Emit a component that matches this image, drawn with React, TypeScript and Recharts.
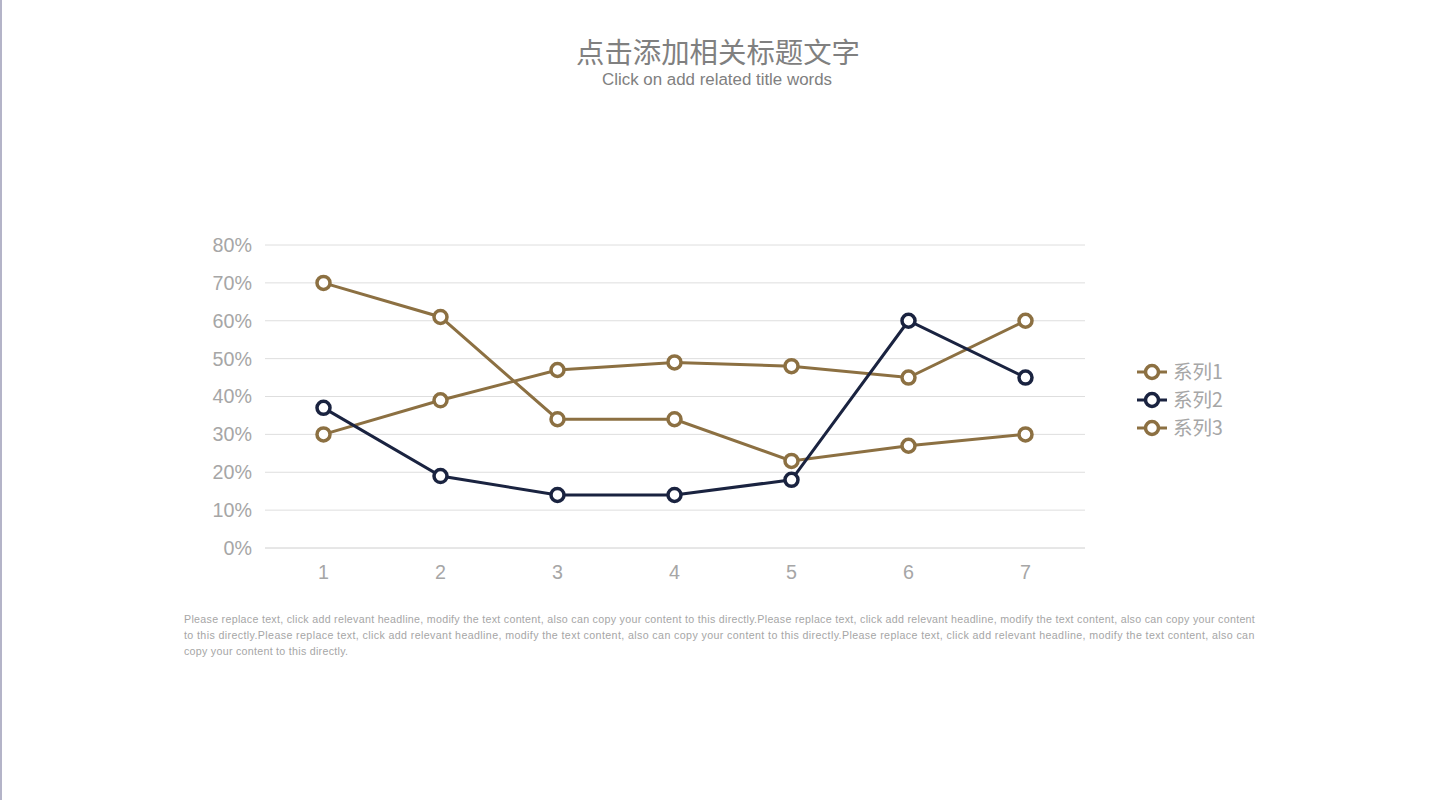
import React from "react";
import { LineChart, Line, XAxis, YAxis, CartesianGrid } from "recharts";

const categories = ["1", "2", "3", "4", "5", "6", "7"];
const series1 = [30, 39, 47, 49, 48, 45, 60];
const series2 = [37, 19, 14, 14, 18, 60, 45];
const series3 = [70, 61, 34, 34, 23, 27, 30];
const yTicks = [0, 10, 20, 30, 40, 50, 60, 70, 80];
const seriesNames = ["系列1", "系列2", "系列3"];
const BROWN = "#8c7042";
const NAVY = "#1a2340";
const seriesColors = [BROWN, NAVY, BROWN];
const bodyLines = [
  "Please replace text, click add relevant headline, modify the text content, also can copy your content to this directly.Please replace text, click add relevant headline, modify the text content, also can copy your content",
  "to this directly.Please replace text, click add relevant headline, modify the text content, also can copy your content to this directly.Please replace text, click add relevant headline, modify the text content, also can",
  "copy your content to this directly.",
];
const bodySpacing = [0.295, 0.385, 0.28];

const data = categories.map((c, i) => ({
  name: c,
  s1: series1[i],
  s2: series2[i],
  s3: series3[i],
}));

const SANS = "'Liberation Sans', Arial, sans-serif";
const tickStyle = { fill: "#a6a6a6", fontSize: 19.7, fontFamily: SANS };
const dot = (color: string) => ({ r: 6.5, fill: "#ffffff", stroke: color, strokeWidth: 3.5 });

export default function App() {
  return (
    <div style={{ position: "absolute", left: 0, top: 0, width: 1432, height: 800, background: "#fff", overflow: "hidden" }}>
      <div style={{ position: "absolute", left: 0, top: 0, width: 2, height: 800, background: "#b4b4c8" }} />
      <div style={{ position: "absolute", left: 0, width: 1436, top: 31, textAlign: "center", fontFamily: "'Noto Sans CJK SC'", fontSize: 28.4, lineHeight: "40px", color: "#808080", whiteSpace: "nowrap" }}>
        点击添加相关标题文字
      </div>
      <div style={{ position: "absolute", left: 0, width: 1434, top: 70, textAlign: "center", fontFamily: SANS, fontSize: 16.9, lineHeight: "20px", color: "#808080", whiteSpace: "nowrap" }}>
        Click on add related title words
      </div>
      <LineChart
        width={1432}
        height={800}
        data={data}
        margin={{ left: 205, right: 347, top: 245, bottom: 212 }}
        style={{ position: "absolute", left: 0, top: 0 }}
      >
        <CartesianGrid horizontal vertical={false} stroke="#dedede" strokeWidth={1} />
        <XAxis
          dataKey="name"
          padding={{ left: 58.5, right: 59.5 }}
          height={40}
          tick={tickStyle}
          tickLine={false}
          tickSize={0}
          tickMargin={17}
          axisLine={{ stroke: "#dedede" }}
        />
        <YAxis
          width={60}
          domain={[0, 80]}
          ticks={yTicks}
          tick={tickStyle}
          tickFormatter={(v: number) => `${v}%`}
          tickLine={false}
          tickSize={0}
          tickMargin={13}
          axisLine={false}
          interval={0}
        />
        <Line dataKey="s1" name={seriesNames[0]} stroke={seriesColors[0]} strokeWidth={3} dot={dot(seriesColors[0])} isAnimationActive={false} />
        <Line dataKey="s3" name={seriesNames[2]} stroke={seriesColors[2]} strokeWidth={3} dot={dot(seriesColors[2])} isAnimationActive={false} />
        <Line dataKey="s2" name={seriesNames[1]} stroke={seriesColors[1]} strokeWidth={3} dot={dot(seriesColors[1])} isAnimationActive={false} />
      </LineChart>
      {seriesNames.map((n, i) => (
        <div key={n} style={{ position: "absolute", left: 1136, top: 358 + i * 28, height: 28, display: "flex", alignItems: "center" }}>
          <svg width={32} height={28} style={{ display: "block" }}>
            <line x1={1} x2={31} y1={14} y2={14} stroke={seriesColors[i]} strokeWidth={3} />
            <circle cx={16} cy={14} r={6.5} fill="#fff" stroke={seriesColors[i]} strokeWidth={3.5} />
          </svg>
          <span style={{ marginLeft: 5, marginTop: -4, fontFamily: "'Noto Sans CJK SC'", fontSize: 19.5, color: "#a6a6a6", whiteSpace: "nowrap" }}>{n}</span>
        </div>
      ))}
      {bodyLines.map((t, i) => (
        <div key={i} style={{ position: "absolute", left: 184, top: 611 + i * 16, fontFamily: SANS, fontSize: 10.67, lineHeight: "16px", letterSpacing: bodySpacing[i], color: "#a6a6a6", whiteSpace: "nowrap" }}>
          {t}
        </div>
      ))}
    </div>
  );
}
